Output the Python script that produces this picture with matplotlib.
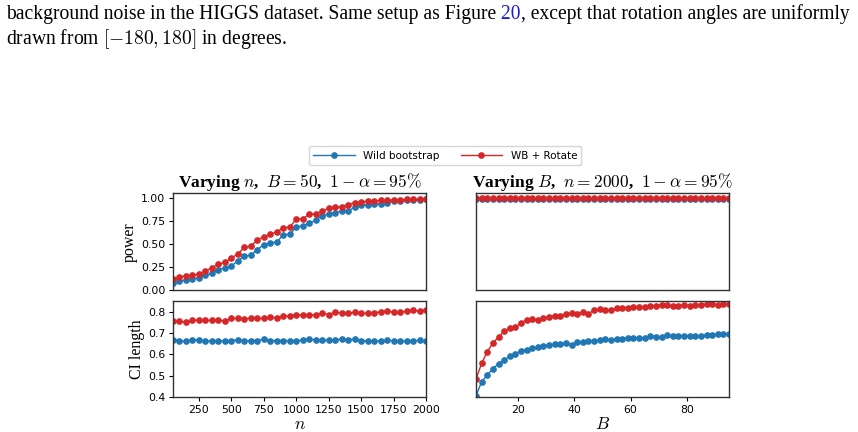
import numpy as np
import matplotlib
matplotlib.use('Agg')
import matplotlib.pyplot as plt

plt.rcParams['mathtext.fontset'] = 'cm'
plt.rcParams['font.family'] = 'DejaVu Sans'

# Varying n (B = 50)
n_values = np.arange(50, 2001, 50)
power_n_wb = [0.08, 0.095, 0.112, 0.117, 0.136, 0.162, 0.18, 0.222, 0.24, 0.261,
              0.318, 0.368, 0.381, 0.44, 0.494, 0.51, 0.523, 0.6, 0.606, 0.685,
              0.70, 0.724, 0.76, 0.81, 0.823, 0.842, 0.86, 0.86, 0.90, 0.92,
              0.93, 0.938, 0.941, 0.952, 0.963, 0.97, 0.974, 0.978, 0.98, 0.985]
power_n_rot = [0.118, 0.143, 0.155, 0.158, 0.176, 0.21, 0.24, 0.284, 0.30, 0.35,
               0.39, 0.467, 0.478, 0.544, 0.58, 0.607, 0.632, 0.676, 0.684, 0.772,
               0.772, 0.827, 0.827, 0.86, 0.89, 0.90, 0.908, 0.93, 0.949, 0.956,
               0.966, 0.968, 0.974, 0.974, 0.98, 0.983, 0.986, 0.986, 0.99, 0.99]
ci_n_wb = [0.669, 0.665, 0.661, 0.669, 0.667, 0.661, 0.664, 0.664, 0.664, 0.665,
           0.669, 0.664, 0.665, 0.665, 0.672, 0.665, 0.665, 0.665, 0.665, 0.664,
           0.667, 0.672, 0.667, 0.666, 0.667, 0.666, 0.673, 0.669, 0.672, 0.664,
           0.664, 0.664, 0.663, 0.666, 0.664, 0.661, 0.663, 0.664, 0.666, 0.661]
ci_n_rot = [0.758, 0.756, 0.751, 0.759, 0.761, 0.759, 0.759, 0.761, 0.756, 0.769,
            0.769, 0.766, 0.77, 0.769, 0.769, 0.775, 0.772, 0.778, 0.781, 0.786,
            0.784, 0.784, 0.787, 0.792, 0.787, 0.797, 0.794, 0.795, 0.797, 0.794,
            0.792, 0.795, 0.80, 0.803, 0.798, 0.797, 0.803, 0.807, 0.803, 0.809]

# Varying B (n = 2000)
B_values = np.arange(5, 96, 2)
power_B_wb = [0.99, 0.995, 0.99, 0.995, 0.99, 0.995, 0.995, 0.99, 0.995, 0.995,
              0.99, 0.995, 0.995, 0.99, 0.995, 0.995, 0.99, 0.995, 0.995, 0.99,
              0.995, 0.995, 0.99, 0.995, 0.995, 0.99, 0.995, 0.995, 0.99, 0.995,
              0.995, 0.99, 0.995, 0.995, 0.99, 0.995, 0.995, 0.99, 0.995, 0.995,
              0.99, 0.995, 0.995, 0.99, 0.995, 0.995]
power_B_rot = [1.0] * 46
ci_B_wb = [0.405, 0.472, 0.503, 0.533, 0.556, 0.572, 0.592, 0.603, 0.617, 0.622,
           0.628, 0.634, 0.639, 0.644, 0.647, 0.65, 0.652, 0.645, 0.656, 0.658,
           0.661, 0.663, 0.668, 0.671, 0.666, 0.673, 0.673, 0.678, 0.675, 0.679,
           0.676, 0.688, 0.683, 0.683, 0.689, 0.684, 0.686, 0.688, 0.686, 0.688,
           0.688, 0.691, 0.692, 0.695, 0.697, 0.697]
ci_B_rot = [0.484, 0.558, 0.613, 0.653, 0.681, 0.709, 0.722, 0.728, 0.748, 0.761,
            0.764, 0.762, 0.769, 0.775, 0.781, 0.778, 0.789, 0.793, 0.79, 0.80,
            0.791, 0.807, 0.813, 0.809, 0.807, 0.817, 0.817, 0.817, 0.82, 0.823,
            0.82, 0.825, 0.829, 0.834, 0.831, 0.826, 0.829, 0.831, 0.829, 0.831,
            0.834, 0.836, 0.837, 0.833, 0.837, 0.836]

blue = '#1f77b4'
red = '#d62728'
line_kw = dict(marker='o', markersize=3.8, linewidth=1.0)

fig = plt.figure(figsize=(8.58, 4.32), dpi=100)

# caption text above the figure
serif = 'Liberation Serif'
cap_size = 14.1
renderer = fig.canvas.get_renderer()
t1 = fig.text(0.007, 0.956, "background noise in the HIGGS dataset. Same setup as Figure",
              fontsize=cap_size, family=serif, va='baseline')
x1 = fig.transFigure.inverted().transform((t1.get_window_extent(renderer).x1, 0))[0]
t2 = fig.text(x1, 0.956, " 20", fontsize=cap_size, family=serif, va='baseline', color='#1a1adb')
x2 = fig.transFigure.inverted().transform((t2.get_window_extent(renderer).x1, 0))[0]
fig.text(x2, 0.956, ", except that rotation angles are uniformly",
         fontsize=cap_size, family=serif, va='baseline')
fig.text(0.007, 0.898, r"drawn from $[-180, 180]$ in degrees.",
         fontsize=cap_size, family=serif, va='baseline')

# axes
left1, left2, width = 0.2016, 0.5548, 0.2949
ax_pn = fig.add_axes([left1, 0.3287, width, 0.2234])
ax_pb = fig.add_axes([left2, 0.3287, width, 0.2234])
ax_cn = fig.add_axes([left1, 0.081, width, 0.222])
ax_cb = fig.add_axes([left2, 0.081, width, 0.222])

ax_pn.plot(n_values, power_n_wb, color=blue, label='Wild bootstrap', **line_kw)
ax_pn.plot(n_values, power_n_rot, color=red, label='WB + Rotate', **line_kw)
ax_pb.plot(B_values, power_B_wb, color=blue, **line_kw)
ax_pb.plot(B_values, power_B_rot, color=red, **line_kw)
ax_cn.plot(n_values, ci_n_wb, color=blue, **line_kw)
ax_cn.plot(n_values, ci_n_rot, color=red, **line_kw)
ax_cb.plot(B_values, ci_B_wb, color=blue, **line_kw)
ax_cb.plot(B_values, ci_B_rot, color=red, **line_kw)

for ax in (ax_pn, ax_cn):
    ax.set_xlim(50, 2000)
for ax in (ax_pb, ax_cb):
    ax.set_xlim(5, 95)
for ax in (ax_pn, ax_pb):
    ax.set_ylim(0, 1.05)
    ax.tick_params(bottom=False, labelbottom=False)
for ax in (ax_cn, ax_cb):
    ax.set_ylim(0.4, 0.85)
for ax in (ax_pb, ax_cb):
    ax.tick_params(left=False, labelleft=False)

ax_pn.set_yticks([0, 0.25, 0.5, 0.75, 1.0])
ax_cn.set_yticks([0.4, 0.5, 0.6, 0.7, 0.8])
ax_cn.set_xticks(np.arange(250, 2001, 250))
ax_cb.set_xticks([20, 40, 60, 80])

for ax in (ax_pn, ax_pb, ax_cn, ax_cb):
    ax.tick_params(labelsize=7.8, length=3, pad=2.5)
    for sp in ax.spines.values():
        sp.set_color('#333333')
        sp.set_linewidth(1.0)

ax_pn.set_title(r"Varying $n$,  $B=50$,  $1-\alpha=95\%$", family=serif,
                fontweight='bold', fontsize=12.5, pad=4)
ax_pb.set_title(r"Varying $B$,  $n=2000$,  $1-\alpha=95\%$", family=serif,
                fontweight='bold', fontsize=12.5, pad=4)
ax_pn.set_ylabel('power', family=serif, fontsize=11.5, labelpad=2)
ax_cn.set_ylabel('CI length', family=serif, fontsize=11.5, labelpad=2)
ax_cn.set_xlabel(r'$n$', fontsize=12.5, labelpad=0)
ax_cb.set_xlabel(r'$B$', fontsize=12.5, labelpad=0)

fig.legend(loc='center', bbox_to_anchor=(0.519, 0.64), ncol=2, fontsize=7.5,
           handlelength=4.0, columnspacing=2.0, frameon=True, borderpad=0.4)

fig.savefig('out.png', dpi=100)
